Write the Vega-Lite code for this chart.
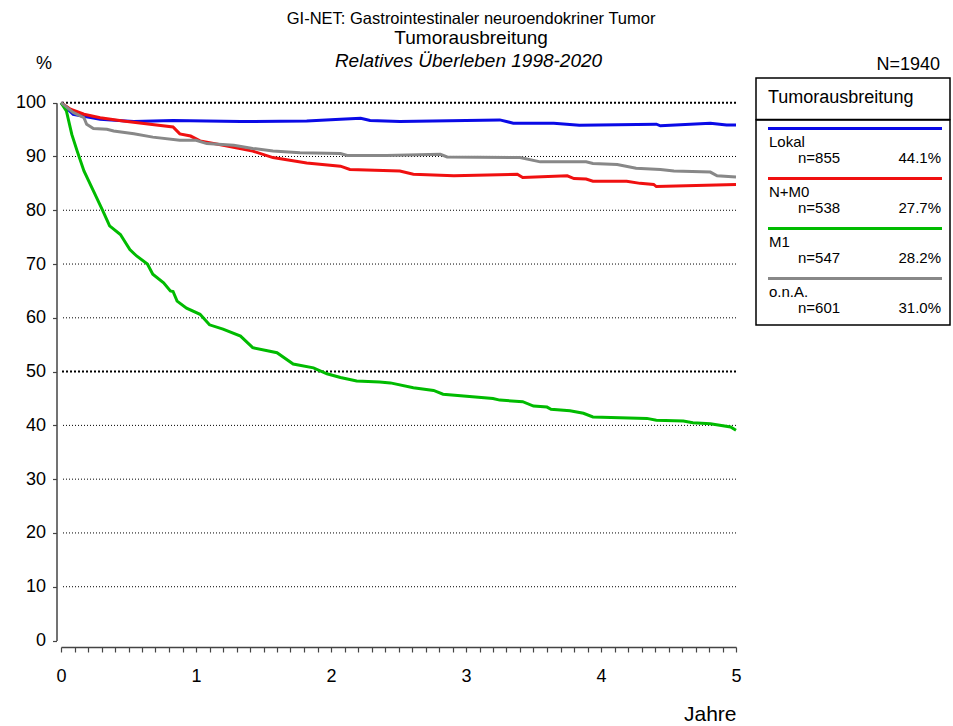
{
  "$schema": "https://vega.github.io/schema/vega-lite/v6.json",
  "background": "white",
  "padding": {"left": 15, "top": 10, "right": 2, "bottom": 2},
  "config": {
    "font": "Liberation Sans",
    "view": {"stroke": null},
    "title": {"color": "black", "fontWeight": "normal", "subtitleColor": "black", "subtitleFont": "Liberation Sans"}
  },
  "title": {
    "text": "GI-NET: Gastrointestinaler neuroendokriner Tumor",
    "subtitle": "Tumorausbreitung",
    "fontSize": 16.5,
    "subtitleFontSize": 19,
    "subtitlePadding": 2,
    "anchor": "middle",
    "dx": -12,
    "offset": 4
  },
  "bounds": "flush",
  "spacing": 20,
  "datasets": {
    "kurven": [
      {"gruppe": "Lokal", "jahre": 0, "pct": 100},
      {"gruppe": "Lokal", "jahre": 0.09, "pct": 97.85},
      {"gruppe": "Lokal", "jahre": 0.29, "pct": 96.9},
      {"gruppe": "Lokal", "jahre": 0.54, "pct": 96.5},
      {"gruppe": "Lokal", "jahre": 0.83, "pct": 96.7},
      {"gruppe": "Lokal", "jahre": 1.33, "pct": 96.5},
      {"gruppe": "Lokal", "jahre": 1.82, "pct": 96.6},
      {"gruppe": "Lokal", "jahre": 2.07, "pct": 96.9},
      {"gruppe": "Lokal", "jahre": 2.22, "pct": 97.1},
      {"gruppe": "Lokal", "jahre": 2.29, "pct": 96.7},
      {"gruppe": "Lokal", "jahre": 2.51, "pct": 96.5},
      {"gruppe": "Lokal", "jahre": 3.0, "pct": 96.7},
      {"gruppe": "Lokal", "jahre": 3.25, "pct": 96.8},
      {"gruppe": "Lokal", "jahre": 3.35, "pct": 96.2},
      {"gruppe": "Lokal", "jahre": 3.65, "pct": 96.2},
      {"gruppe": "Lokal", "jahre": 3.84, "pct": 95.8},
      {"gruppe": "Lokal", "jahre": 4.41, "pct": 96.0},
      {"gruppe": "Lokal", "jahre": 4.44, "pct": 95.7},
      {"gruppe": "Lokal", "jahre": 4.81, "pct": 96.2},
      {"gruppe": "Lokal", "jahre": 4.93, "pct": 95.85},
      {"gruppe": "Lokal", "jahre": 5.0, "pct": 95.85},
      {"gruppe": "N+M0", "jahre": 0, "pct": 100},
      {"gruppe": "N+M0", "jahre": 0.07, "pct": 98.8},
      {"gruppe": "N+M0", "jahre": 0.17, "pct": 97.85},
      {"gruppe": "N+M0", "jahre": 0.29, "pct": 97.2},
      {"gruppe": "N+M0", "jahre": 0.46, "pct": 96.6},
      {"gruppe": "N+M0", "jahre": 0.66, "pct": 96.0},
      {"gruppe": "N+M0", "jahre": 0.83, "pct": 95.5},
      {"gruppe": "N+M0", "jahre": 0.88, "pct": 94.2},
      {"gruppe": "N+M0", "jahre": 0.96, "pct": 93.8},
      {"gruppe": "N+M0", "jahre": 1.03, "pct": 92.9},
      {"gruppe": "N+M0", "jahre": 1.23, "pct": 91.95},
      {"gruppe": "N+M0", "jahre": 1.42, "pct": 91.0},
      {"gruppe": "N+M0", "jahre": 1.57, "pct": 89.8},
      {"gruppe": "N+M0", "jahre": 1.82, "pct": 88.8},
      {"gruppe": "N+M0", "jahre": 2.07, "pct": 88.2},
      {"gruppe": "N+M0", "jahre": 2.14, "pct": 87.6},
      {"gruppe": "N+M0", "jahre": 2.51, "pct": 87.3},
      {"gruppe": "N+M0", "jahre": 2.61, "pct": 86.7},
      {"gruppe": "N+M0", "jahre": 2.91, "pct": 86.4},
      {"gruppe": "N+M0", "jahre": 3.38, "pct": 86.7},
      {"gruppe": "N+M0", "jahre": 3.42, "pct": 86.1},
      {"gruppe": "N+M0", "jahre": 3.75, "pct": 86.4},
      {"gruppe": "N+M0", "jahre": 3.8, "pct": 85.9},
      {"gruppe": "N+M0", "jahre": 3.89, "pct": 85.8},
      {"gruppe": "N+M0", "jahre": 3.94, "pct": 85.4},
      {"gruppe": "N+M0", "jahre": 4.19, "pct": 85.4},
      {"gruppe": "N+M0", "jahre": 4.29, "pct": 85.0},
      {"gruppe": "N+M0", "jahre": 4.39, "pct": 84.8},
      {"gruppe": "N+M0", "jahre": 4.41, "pct": 84.4},
      {"gruppe": "N+M0", "jahre": 5.0, "pct": 84.8},
      {"gruppe": "M1", "jahre": 0, "pct": 100},
      {"gruppe": "M1", "jahre": 0.04, "pct": 98.45},
      {"gruppe": "M1", "jahre": 0.08, "pct": 94.1},
      {"gruppe": "M1", "jahre": 0.12, "pct": 91.0},
      {"gruppe": "M1", "jahre": 0.17, "pct": 87.3},
      {"gruppe": "M1", "jahre": 0.24, "pct": 83.6},
      {"gruppe": "M1", "jahre": 0.31, "pct": 79.9},
      {"gruppe": "M1", "jahre": 0.36, "pct": 77.1},
      {"gruppe": "M1", "jahre": 0.44, "pct": 75.5},
      {"gruppe": "M1", "jahre": 0.51, "pct": 72.7},
      {"gruppe": "M1", "jahre": 0.56, "pct": 71.5},
      {"gruppe": "M1", "jahre": 0.64, "pct": 70.0},
      {"gruppe": "M1", "jahre": 0.68, "pct": 68.1},
      {"gruppe": "M1", "jahre": 0.76, "pct": 66.5},
      {"gruppe": "M1", "jahre": 0.81, "pct": 65.0},
      {"gruppe": "M1", "jahre": 0.83, "pct": 64.9},
      {"gruppe": "M1", "jahre": 0.86, "pct": 63.1},
      {"gruppe": "M1", "jahre": 0.93, "pct": 61.8},
      {"gruppe": "M1", "jahre": 1.03, "pct": 60.65},
      {"gruppe": "M1", "jahre": 1.1, "pct": 58.7},
      {"gruppe": "M1", "jahre": 1.2, "pct": 57.9},
      {"gruppe": "M1", "jahre": 1.33, "pct": 56.6},
      {"gruppe": "M1", "jahre": 1.42, "pct": 54.45},
      {"gruppe": "M1", "jahre": 1.6, "pct": 53.5},
      {"gruppe": "M1", "jahre": 1.72, "pct": 51.4},
      {"gruppe": "M1", "jahre": 1.87, "pct": 50.7},
      {"gruppe": "M1", "jahre": 1.97, "pct": 49.6},
      {"gruppe": "M1", "jahre": 2.07, "pct": 48.9},
      {"gruppe": "M1", "jahre": 2.19, "pct": 48.25},
      {"gruppe": "M1", "jahre": 2.36, "pct": 48.07},
      {"gruppe": "M1", "jahre": 2.44, "pct": 47.9},
      {"gruppe": "M1", "jahre": 2.61, "pct": 47.0},
      {"gruppe": "M1", "jahre": 2.76, "pct": 46.5},
      {"gruppe": "M1", "jahre": 2.83, "pct": 45.8},
      {"gruppe": "M1", "jahre": 3.2, "pct": 45.0},
      {"gruppe": "M1", "jahre": 3.25, "pct": 44.7},
      {"gruppe": "M1", "jahre": 3.42, "pct": 44.4},
      {"gruppe": "M1", "jahre": 3.5, "pct": 43.6},
      {"gruppe": "M1", "jahre": 3.6, "pct": 43.4},
      {"gruppe": "M1", "jahre": 3.63, "pct": 43.0},
      {"gruppe": "M1", "jahre": 3.77, "pct": 42.7},
      {"gruppe": "M1", "jahre": 3.87, "pct": 42.25},
      {"gruppe": "M1", "jahre": 3.94, "pct": 41.56},
      {"gruppe": "M1", "jahre": 4.34, "pct": 41.3},
      {"gruppe": "M1", "jahre": 4.41, "pct": 40.94},
      {"gruppe": "M1", "jahre": 4.61, "pct": 40.8},
      {"gruppe": "M1", "jahre": 4.68, "pct": 40.5},
      {"gruppe": "M1", "jahre": 4.81, "pct": 40.3},
      {"gruppe": "M1", "jahre": 4.96, "pct": 39.7},
      {"gruppe": "M1", "jahre": 5.0, "pct": 39.1},
      {"gruppe": "o.n.A.", "jahre": 0, "pct": 100},
      {"gruppe": "o.n.A.", "jahre": 0.09, "pct": 98.2},
      {"gruppe": "o.n.A.", "jahre": 0.17, "pct": 97.2},
      {"gruppe": "o.n.A.", "jahre": 0.19, "pct": 96.0},
      {"gruppe": "o.n.A.", "jahre": 0.24, "pct": 95.2},
      {"gruppe": "o.n.A.", "jahre": 0.34, "pct": 95.05},
      {"gruppe": "o.n.A.", "jahre": 0.39, "pct": 94.74},
      {"gruppe": "o.n.A.", "jahre": 0.54, "pct": 94.24},
      {"gruppe": "o.n.A.", "jahre": 0.68, "pct": 93.6},
      {"gruppe": "o.n.A.", "jahre": 0.88, "pct": 93.0},
      {"gruppe": "o.n.A.", "jahre": 1.0, "pct": 93.0},
      {"gruppe": "o.n.A.", "jahre": 1.08, "pct": 92.4},
      {"gruppe": "o.n.A.", "jahre": 1.28, "pct": 92.1},
      {"gruppe": "o.n.A.", "jahre": 1.42, "pct": 91.5},
      {"gruppe": "o.n.A.", "jahre": 1.57, "pct": 91.0},
      {"gruppe": "o.n.A.", "jahre": 1.77, "pct": 90.7},
      {"gruppe": "o.n.A.", "jahre": 2.07, "pct": 90.55},
      {"gruppe": "o.n.A.", "jahre": 2.12, "pct": 90.2},
      {"gruppe": "o.n.A.", "jahre": 2.41, "pct": 90.2},
      {"gruppe": "o.n.A.", "jahre": 2.81, "pct": 90.4},
      {"gruppe": "o.n.A.", "jahre": 2.86, "pct": 89.9},
      {"gruppe": "o.n.A.", "jahre": 3.4, "pct": 89.8},
      {"gruppe": "o.n.A.", "jahre": 3.55, "pct": 89.0},
      {"gruppe": "o.n.A.", "jahre": 3.89, "pct": 89.0},
      {"gruppe": "o.n.A.", "jahre": 3.94, "pct": 88.7},
      {"gruppe": "o.n.A.", "jahre": 4.12, "pct": 88.5},
      {"gruppe": "o.n.A.", "jahre": 4.26, "pct": 87.8},
      {"gruppe": "o.n.A.", "jahre": 4.44, "pct": 87.6},
      {"gruppe": "o.n.A.", "jahre": 4.54, "pct": 87.3},
      {"gruppe": "o.n.A.", "jahre": 4.81, "pct": 87.1},
      {"gruppe": "o.n.A.", "jahre": 4.86, "pct": 86.4},
      {"gruppe": "o.n.A.", "jahre": 5.0, "pct": 86.2}
    ],
    "gitterFein": [
      {"pct": 10}, {"pct": 20}, {"pct": 30}, {"pct": 40}, {"pct": 60}, {"pct": 70}, {"pct": 80}, {"pct": 90}
    ],
    "gitterStark": [
      {"pct": 50}, {"pct": 100}
    ],
    "legende": [
      {"gruppe": "Lokal", "n": "n=855", "anteil": "44.1%"},
      {"gruppe": "N+M0", "n": "n=538", "anteil": "27.7%"},
      {"gruppe": "M1", "n": "n=547", "anteil": "28.2%"},
      {"gruppe": "o.n.A.", "n": "n=601", "anteil": "31.0%"}
    ],
    "kopf": [
      {"t": "Tumorausbreitung"}
    ]
  },
  "hconcat": [
    {
      "width": 675,
      "height": 562.5,
      "title": {
        "text": "Relatives Überleben 1998-2020",
        "fontStyle": "italic",
        "fontSize": 19,
        "anchor": "middle",
        "dx": 70,
        "baseline": "alphabetic",
        "offset": -32
      },
      "layer": [
        {
          "data": {"name": "gitterFein"},
          "mark": {"type": "rule", "color": "black", "strokeWidth": 1, "strokeDash": [1, 2]},
          "encoding": {
            "y": {
              "field": "pct",
              "type": "quantitative",
              "scale": {"domain": [0, 100], "range": [562.5, 24.7], "nice": false, "zero": false},
              "axis": {
                "values": [0, 5, 10, 15, 20, 25, 30, 35, 40, 45, 50, 55, 60, 65, 70, 75, 80, 85, 90, 95, 100],
                "labelExpr": "datum.value % 10 == 0 ? datum.label : ''",
                "grid": false,
                "title": "%",
                "titleAngle": 0,
                "titleX": -13,
                "titleY": -15,
                "titleAlign": "center",
                "titleBaseline": "middle",
                "titleFontSize": 18,
                "titleFontWeight": "normal",
                "titleColor": "black",
                "labelFontSize": 18,
                "labelColor": "black",
                "labelPadding": 7,
                "labelOverlap": false,
                "tickSize": 4,
                "tickColor": "#444",
                "tickWidth": 1.2,
                "domainColor": "#444",
                "domainWidth": 1.5,
                "offset": 4.5
              }
            }
          }
        },
        {
          "data": {"name": "gitterStark"},
          "mark": {"type": "rule", "color": "black", "strokeWidth": 2, "strokeDash": [2, 2]},
          "encoding": {
            "y": {"field": "pct", "type": "quantitative"}
          }
        },
        {
          "data": {"name": "kurven"},
          "mark": {"type": "line", "strokeWidth": 3, "interpolate": "linear"},
          "encoding": {
            "x": {
              "field": "jahre",
              "type": "quantitative",
              "scale": {"domain": [0, 5], "nice": false, "zero": false},
              "axis": {
                "values": [0, 0.1, 0.2, 0.3, 0.4, 0.5, 0.6, 0.7, 0.8, 0.9, 1, 1.1, 1.2, 1.3, 1.4, 1.5, 1.6, 1.7, 1.8, 1.9, 2, 2.1, 2.2, 2.3, 2.4, 2.5, 2.6, 2.7, 2.8, 2.9, 3, 3.1, 3.2, 3.3, 3.4, 3.5, 3.6, 3.7, 3.8, 3.9, 4, 4.1, 4.2, 4.3, 4.4, 4.5, 4.6, 4.7, 4.8, 4.9, 5],
                "labelExpr": "round(datum.value * 10) % 10 == 0 ? format(datum.value, 'd') : ''",
                "grid": false,
                "title": "Jahre",
                "titleAnchor": "end",
                "titleFontSize": 21,
                "titleFontWeight": "normal",
                "titleColor": "black",
                "titlePadding": 18,
                "labelFontSize": 18,
                "labelColor": "black",
                "labelPadding": 15,
                "labelFlush": false,
                "labelOverlap": false,
                "labelBound": false,
                "tickSize": 5,
                "tickColor": "#444",
                "tickWidth": 1.2,
                "domainColor": "#444",
                "domainWidth": 1.5,
                "offset": 6.5
              }
            },
            "y": {"field": "pct", "type": "quantitative"},
            "color": {
              "field": "gruppe",
              "type": "nominal",
              "scale": {"domain": ["Lokal", "N+M0", "M1", "o.n.A."], "range": ["#0a0ae6", "#f01010", "#00bb00", "#888888"]},
              "legend": null
            }
          }
        }
      ]
    },
    {
      "bounds": "flush",
      "spacing": 0,
      "vconcat": [
        {
          "width": 194,
          "height": 41.6,
          "view": {"stroke": "black", "strokeWidth": 1.5},
          "title": {
            "text": "N=1940",
            "anchor": "end",
            "fontSize": 18,
            "dx": -10,
            "baseline": "alphabetic",
            "offset": -10
          },
          "data": {"name": "kopf"},
          "mark": {"type": "text", "align": "left", "baseline": "alphabetic", "fontSize": 18, "x": 12, "y": 25, "color": "black"},
          "encoding": {"text": {"field": "t"}}
        },
        {
          "width": 194,
          "height": 205,
          "view": {"stroke": "black", "strokeWidth": 1.5},
          "data": {"name": "legende"},
          "encoding": {
            "y": {
              "field": "gruppe",
              "type": "nominal",
              "bandPosition": 0,
              "sort": ["Lokal", "N+M0", "M1", "o.n.A."],
              "scale": {"type": "band", "paddingInner": 0, "paddingOuter": 0.05, "align": 0},
              "axis": null
            }
          },
          "layer": [
            {
              "mark": {"type": "rule", "strokeWidth": 3, "x": 12, "x2": 186, "yOffset": 8.4},
              "encoding": {
                "color": {
                  "field": "gruppe",
                  "type": "nominal",
                  "scale": {"domain": ["Lokal", "N+M0", "M1", "o.n.A."], "range": ["#0a0ae6", "#f01010", "#00bb00", "#888888"]},
                  "legend": null
                }
              }
            },
            {
              "mark": {"type": "text", "align": "left", "baseline": "alphabetic", "fontSize": 15, "x": 13, "yOffset": 27.4, "color": "black"},
              "encoding": {"text": {"field": "gruppe"}}
            },
            {
              "mark": {"type": "text", "align": "left", "baseline": "alphabetic", "fontSize": 15, "x": 42, "yOffset": 42.7, "color": "black"},
              "encoding": {"text": {"field": "n"}}
            },
            {
              "mark": {"type": "text", "align": "right", "baseline": "alphabetic", "fontSize": 15, "x": 185, "yOffset": 42.7, "color": "black"},
              "encoding": {"text": {"field": "anteil"}}
            }
          ]
        }
      ]
    }
  ]
}
